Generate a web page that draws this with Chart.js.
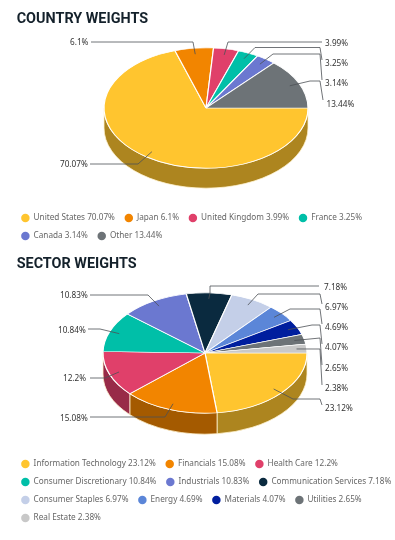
<!DOCTYPE html>
<html><head><meta charset="utf-8">
<style>html,body{margin:0;padding:0;background:#fff;overflow:hidden;width:395px;height:540px}
canvas{position:absolute;left:0;filter:blur(.3px)}</style>
<script src="https://cdn.jsdelivr.net/npm/chart.js@4/dist/chart.umd.min.js"></script>
</head><body>
<canvas id="c1" width="420" height="250" style="top:0;width:420px;height:250px"></canvas>
<canvas id="c2" width="420" height="290" style="top:250px;width:420px;height:290px"></canvas>
<script>
const countryNames = ["United States","Japan","United Kingdom","France","Canada","Other"];
const countryValues = [70.07,6.1,3.99,3.25,3.14,13.44];
const countryColors = ["#FFC52F","#F28500","#E0406A","#00BFA8","#6B78D0","#6D7377"];
const sectorNames = ["Information Technology","Financials","Health Care","Consumer Discretionary","Industrials","Communication Services","Consumer Staples","Energy","Materials","Utilities","Real Estate"];
const sectorValues = [23.12,15.08,12.2,10.84,10.83,7.18,6.97,4.69,4.07,2.65,2.38];
const sectorColors = ["#FFC52F","#F28500","#E0406A","#00BFA8","#6B78D0","#0A2A3F","#C4CFE8","#5B86D8","#001E9E","#6D7377","#C8C8C8"];

// leader routes: label anchor, then elbows walking back toward the slice
const countryLeaders = [
 {t:[326.5,104,'left'], p:[[323,100],[320,81],[310,81]], idx:5},
 {t:[60,164,'left'], p:[[90,164],[138,164]], idx:0},
 {t:[70,42,'left'], p:[[91,42],[193,42]], idx:1},
 {t:[325,43,'left'], p:[[322,42],[228,42]], idx:2},
 {t:[325,63,'left'], p:[[322,60],[320,47.5],[255,47.5]], idx:3},
 {t:[325,83,'left'], p:[[322,80],[320,54],[273,54]], idx:4}
];
const sectorLeaders = [
 {t:[324,37,'left'], p:[[319,36],[210,36],[210,43]], idx:5},
 {t:[325,57,'left'], p:[[322,54],[320,44],[258,44]], idx:6},
 {t:[325,77,'left'], p:[[322,74],[320,59],[290,59]], idx:7},
 {t:[325,97,'left'], p:[[322,94],[320,75],[312,75]], idx:8},
 {t:[325,118,'left'], p:[[322,115],[320,88]], idx:9},
 {t:[325,138,'left'], p:[[322,135],[320,99]], idx:10},
 {t:[325,158,'left'], p:[[322,155],[320,149],[293,149]], idx:0},
 {t:[60,168,'left'], p:[[90,167],[165,167]], idx:1},
 {t:[63,128,'left'], p:[[90,128],[105,128]], idx:2},
 {t:[58,80,'left'], p:[[88,79],[100,79]], idx:3},
 {t:[60,45,'left'], p:[[90,45],[148,45]], idx:4}
];

function darker(hex){
  const n=parseInt(hex.slice(1),16), f=.68;
  return `rgb(${((n>>16)&255)*f|0},${((n>>8)&255)*f|0},${(n&255)*f|0})`;
}
const pie3d = {
  id:'pie3d',
  afterLayout(chart){
    const o=chart.options.plugins.pie3d;
    chart.titleBlock.left += o.titleShift; chart.titleBlock.right += o.titleShift;
  },
  beforeDatasetsDraw(chart){
    const o=chart.options.plugins.pie3d, ctx=chart.ctx;
    const arcs=chart.getDatasetMeta(0).data, first=arcs[0];
    const rx=first.outerRadius, ry=rx*o.squash, cx=o.cx, cy=o.cy, d=o.depth;
    const colors=chart.data.datasets[0].backgroundColor;
    ctx.save();
    arcs.forEach((a,i)=>{
      const s=Math.max(a.startAngle,0), e=Math.min(a.endAngle,Math.PI);
      if(e<=s) return;
      ctx.beginPath();
      ctx.ellipse(cx,cy+d,rx,ry,0,s,e);
      ctx.ellipse(cx,cy,rx,ry,0,e,s,true);
      ctx.closePath();
      ctx.fillStyle=darker(colors[i]);
      ctx.fill();
      ctx.strokeStyle='#FFF3CF'; ctx.lineWidth=.8; ctx.stroke();
    });
    ctx.restore();
    ctx.save();
    ctx.translate(cx,cy); ctx.scale(1,o.squash); ctx.translate(-first.x,-first.y);
  },
  afterDatasetsDraw(chart){
    const ctx=chart.ctx; ctx.restore();
    const o=chart.options.plugins.pie3d;
    const arcs=chart.getDatasetMeta(0).data, values=chart.data.datasets[0].data;
    ctx.save();
    ctx.strokeStyle='#4c5156'; ctx.lineWidth=.8; ctx.fillStyle='#333';
    ctx.font='8.2px "Noto Sans"'; ctx.textBaseline='middle';
    o.leaders.forEach(l=>{
      const a=arcs[l.idx], m=(a.startAngle+a.endAngle)/2, r=a.outerRadius*.9;
      const sx=o.cx+Math.cos(m)*r, sy=o.cy+Math.sin(m)*r*o.squash;
      ctx.beginPath();
      l.p.forEach((q,i)=> i?ctx.lineTo(q[0],q[1]):ctx.moveTo(q[0],q[1]));
      ctx.lineTo(sx,sy); ctx.stroke();
      ctx.textAlign=l.t[2];
      ctx.fillText(values[l.idx]+'%',l.t[0],l.t[1]+1);
    });
    ctx.restore();
  }
};
function build(id,title,names,values,colors,leaders,geo){
  return new Chart(document.getElementById(id),{
    type:'pie',
    data:{labels:names,datasets:[{data:values,backgroundColor:colors,borderColor:'#ffffff',borderWidth:1.2,radius:102,clip:false}]},
    options:{
      responsive:false,animation:false,rotation:90,
      layout:{padding:{left:11.5,right:0,top:geo.top,bottom:geo.bottom}},
      plugins:{
        tooltip:{enabled:false},
        title:{display:true,text:title,align:'start',color:'#14212B',
          font:{family:'Roboto',weight:'700',size:14.4},padding:{top:0,bottom:6}},
        legend:{position:'bottom',align:'start',
          labels:{usePointStyle:true,pointStyle:'circle',boxWidth:9,boxHeight:6,padding:9.8,color:'#666',
            font:{family:'"Noto Sans"',size:8.2},
            generateLabels(ch){return ch.data.labels.map((n,i)=>({text:n+' '+ch.data.datasets[0].data[i]+'%',
              fillStyle:colors[i],strokeStyle:colors[i],lineWidth:0,pointStyle:'circle',hidden:false,index:i,fontColor:'#666'}));}}},
        pie3d:{cx:geo.cx,cy:geo.cy,squash:.59,depth:geo.depth,leaders,titleShift:5.2}
      }
    },
    plugins:[pie3d]
  });
}
build('c1','COUNTRY WEIGHTS',countryNames,countryValues,countryColors,countryLeaders,{top:11,bottom:0,cx:206,cy:108,depth:20});
build('c2','SECTOR WEIGHTS',sectorNames,sectorValues,sectorColors,sectorLeaders,{top:6,bottom:8,cx:205,cy:103,depth:21});
</script>
</body></html>
